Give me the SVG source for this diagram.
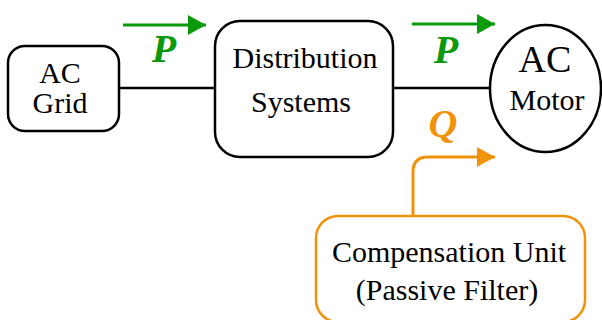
<svg xmlns="http://www.w3.org/2000/svg" width="602" height="320" viewBox="0 0 602 320">
<defs>
<style>
.box{fill:#fff;stroke:#000;stroke-width:2.5}
.obox{fill:#fff;stroke:#f0920a;stroke-width:2.5}
.t{font-family:"Liberation Serif","Times New Roman",serif;font-size:30px;fill:#000;text-anchor:middle}
.lbl{font-family:"Liberation Serif","Times New Roman",serif;font-size:40px;font-weight:bold;font-style:italic;text-anchor:middle}
.wire{stroke:#000;stroke-width:2.5;fill:none}
.g{stroke:#0a990a;stroke-width:3;fill:none}
.o{stroke:#f0920a;stroke-width:3;fill:none}
</style>
<marker id="ag" markerUnits="userSpaceOnUse" markerWidth="20" markerHeight="22" refX="18" refY="10" orient="auto" viewBox="0 0 20 20">
<path d="M0,0 L18,10 L0,20 Z" fill="#0a990a"/>
</marker>
<marker id="ao" markerUnits="userSpaceOnUse" markerWidth="20" markerHeight="22" refX="18" refY="10" orient="auto" viewBox="0 0 20 20">
<path d="M0,0 L18,10 L0,20 Z" fill="#f0920a"/>
</marker>
</defs>
<g id="connectors">
<line class="wire" x1="119" y1="88" x2="215" y2="88"/>
<line class="wire" x1="393" y1="88" x2="490" y2="88"/>
<line class="g" x1="123" y1="25" x2="206" y2="25" marker-end="url(#ag)"/>
<line class="g" x1="412" y1="24" x2="495" y2="24" marker-end="url(#ag)"/>
<path class="o" d="M413,216 L413,172 Q413,157 428,157 L495,157" marker-end="url(#ao)"/>
<text class="lbl" x="164" y="62" fill="#0a990a">P</text>
<text class="lbl" x="446" y="63" fill="#0a990a">P</text>
<text class="lbl" x="443" y="137" fill="#f0920a">Q</text>
</g>
<g id="ac-grid">
<rect class="box" x="8" y="46" width="111" height="85" rx="17"/>
<text class="t" x="60" y="83">AC</text>
<text class="t" x="60" y="113">Grid</text>
</g>
<g id="distribution">
<rect class="box" x="215" y="21" width="178" height="136" rx="25"/>
<text class="t" x="305" y="68">Distribution</text>
<text class="t" x="301" y="112">Systems</text>
</g>
<g id="ac-motor">
<ellipse class="box" cx="545.5" cy="88.5" rx="55.5" ry="63.5"/>
<text class="t" x="545" y="72" style="font-size:38px">AC</text>
<text class="t" x="547" y="110">Motor</text>
</g>
<g id="compensation">
<rect class="obox" x="316" y="216" width="269" height="106" rx="22"/>
<text class="t" x="449" y="262">Compensation Unit</text>
<text class="t" x="447" y="300">(Passive Filter)</text>
</g>
</svg>
